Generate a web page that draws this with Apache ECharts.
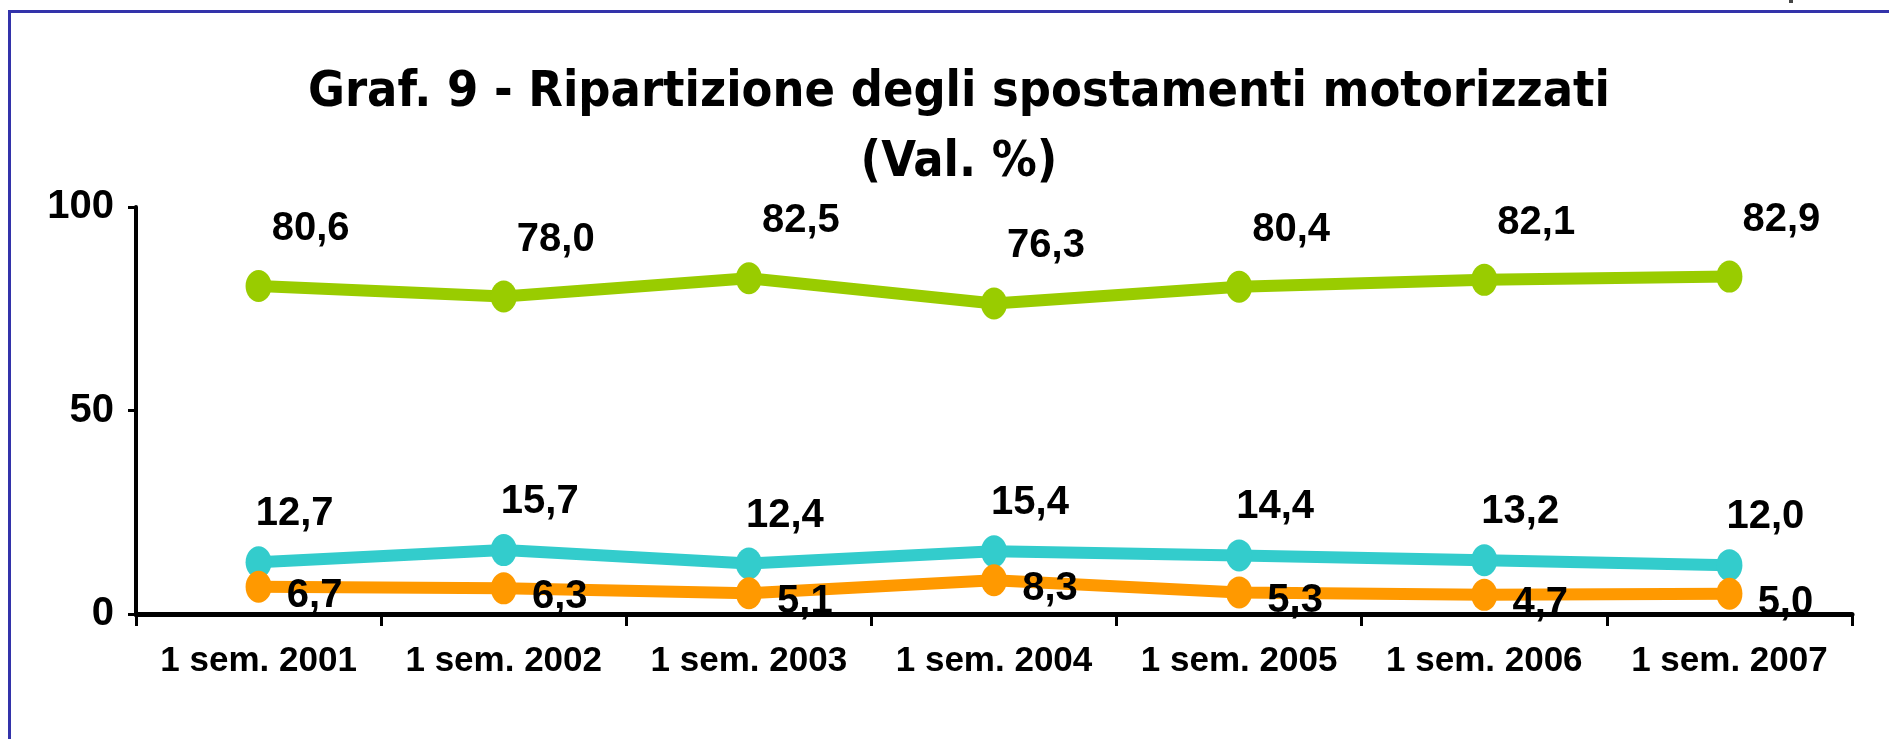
<!DOCTYPE html>
<html>
<head>
<meta charset="utf-8">
<script src="https://cdn.jsdelivr.net/npm/echarts@6/dist/echarts.min.js"></script>
<style>
  html, body { margin: 0; padding: 0; background: #fff; }
  #main { width: 1889px; height: 739px; }
</style>
</head>
<body>
<div id="main"></div>
<script>
// categorie e valori (Val. %)
var periods = ['1 sem. 2001', '1 sem. 2002', '1 sem. 2003', '1 sem. 2004', '1 sem. 2005', '1 sem. 2006', '1 sem. 2007'];
var serieVerde = [80.6, 78.0, 82.5, 76.3, 80.4, 82.1, 82.9];
var serieAzzurra = [12.7, 15.7, 12.4, 15.4, 14.4, 13.2, 12.0];
var serieArancio = [6.7, 6.3, 5.1, 8.3, 5.3, 4.7, 5.0];

var fontLab = 'Liberation Sans, Arial, sans-serif';

function fmt(p) {
    return p.value.toFixed(1).replace('.', ',');
}

function lineSerie(name, data, color, off) {
    return {
        name: name,
        type: 'line',
        data: data,
        symbol: 'circle',
        symbolSize: [26, 32],
        lineStyle: { color: color, width: 12 },
        itemStyle: { color: color },
        label: {
            show: true,
            position: 'inside',
            offset: off,
            formatter: fmt,
            color: '#000',
            fontFamily: fontLab,
            fontWeight: 'bold',
            fontSize: 40
        },
        z: 3
    };
}

var myChart = echarts.init(document.getElementById('main'));
var option = {
    animation: false,
    backgroundColor: '#fff',
    title: {
        text: 'Graf. 9 - Ripartizione degli spostamenti motorizzati\n(Val. %)',
        left: 959,
        textAlign: 'center',
        top: 58,
        padding: 0,
        textStyle: {
            fontFamily: 'DejaVu Sans Condensed, DejaVu Sans, sans-serif',
            fontWeight: 'bold',
            fontSize: 50,
            lineHeight: 70,
            color: '#000'
        }
    },
    graphic: [
        { type: 'rect', shape: { x: 8, y: 10, width: 1881, height: 3 }, style: { fill: '#3333aa' } },
        { type: 'rect', shape: { x: 8, y: 10, width: 3, height: 729 }, style: { fill: '#3333aa' } },
        { type: 'rect', shape: { x: 1789, y: 0, width: 4, height: 3 }, style: { fill: '#444' } }
    ],
    grid: {
        left: 136,
        right: 37,
        top: 207,
        bottom: 125
    },
    xAxis: {
        type: 'category',
        data: periods,
        boundaryGap: true,
        axisLine: { lineStyle: { color: '#000', width: 5 } },
        axisTick: { show: true, interval: 0, length: 12, lineStyle: { color: '#000', width: 3 } },
        axisLabel: {
            interval: 0,
            color: '#000',
            fontFamily: fontLab,
            fontWeight: 'bold',
            fontSize: 35,
            margin: 30
        },
        splitLine: { show: false }
    },
    yAxis: {
        type: 'value',
        min: 0,
        max: 100,
        interval: 50,
        axisLine: { show: true, lineStyle: { color: '#000', width: 4 } },
        axisTick: { show: true, length: 8, lineStyle: { color: '#000', width: 3 } },
        axisLabel: {
            color: '#000',
            fontFamily: fontLab,
            fontWeight: 'bold',
            fontSize: 40,
            margin: 22
        },
        splitLine: { show: false }
    },
    series: [
        lineSerie('Verde', serieVerde, '#99cc00', [52, -57]),
        lineSerie('Azzurro', serieAzzurra, '#33cccc', [36, -48]),
        lineSerie('Arancio', serieArancio, '#ff9900', [56, 9])
    ]
};
myChart.setOption(option);
</script>
</body>
</html>
